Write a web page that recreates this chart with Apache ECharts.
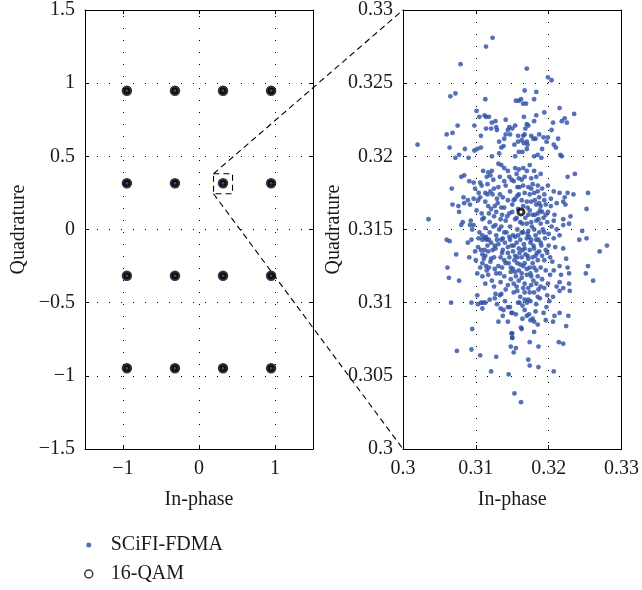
<!DOCTYPE html>
<html><head><meta charset="utf-8">
<script src="https://cdn.jsdelivr.net/npm/echarts@6/dist/echarts.min.js"></script>
<style>html,body{margin:0;padding:0;background:#fff}#c{width:642px;height:590px}</style>
</head><body><div id="c"></div>
<script>
// ---- data ----
const qamLevels = [-0.9487, -0.3162, 0.3162, 0.9487];
const leftXTicks = [-1, 0, 1];
const zoomCenter = [0.3162, 0.3162];
const sciFdmaPoints = [
[0.3123,0.3281],[0.3114,0.3275],[0.3079,0.3263],[0.3065,0.3241],[0.3072,0.3243],[0.3113,0.3239],
[0.3101,0.3231],[0.3105,0.3227],[0.3112,0.3228],[0.3114,0.3227],[0.3118,0.3227],[0.3122,0.3223],[0.3127,0.3224],[0.3121,0.3219],[0.3114,0.3219],[0.3098,0.3221],[0.3128,0.3220],[0.3129,0.3218],[0.3141,0.3225],[0.3146,0.3220],[0.3144,0.3218],[0.3141,0.3215],[0.3147,0.3215],[0.3139,0.3212],[0.3132,0.3210],[0.3135,0.3206],[0.3138,0.3207],[0.3107,0.3214],[0.3075,0.3221],[0.3068,0.3216],[0.3060,0.3215],[0.3020,0.3208],[0.3064,0.3206],[0.3085,0.3205],[0.3098,0.3204],[0.3102,0.3205],[0.3107,0.3206],[0.3072,0.3199],[0.3077,0.3201],[0.3090,0.3199],[0.3122,0.3200],[0.3132,0.3202],
[0.3170,0.3260],[0.3199,0.3254],[0.3204,0.3252],[0.3167,0.3245],[0.3183,0.3244],[0.3155,0.3238],[0.3159,0.3238],[0.3162,0.3239],[0.3165,0.3236],[0.3169,0.3236],[0.3180,0.3239],[0.3194,0.3230],[0.3215,0.3233],[0.3235,0.3229],[0.3166,0.3227],[0.3183,0.3228],[0.3222,0.3226],[0.3218,0.3224],[0.3225,0.3223],[0.3206,0.3223],[0.3180,0.3224],[0.3170,0.3222],[0.3172,0.3221],[0.3168,0.3219],[0.3167,0.3215],[0.3165,0.3214],[0.3154,0.3221],[0.3150,0.3219],[0.3187,0.3215],[0.3176,0.3214],[0.3179,0.3212],[0.3182,0.3212],[0.3193,0.3213],[0.3199,0.3213],[0.3204,0.3218],[0.3213,0.3212],[0.3158,0.3214],[0.3163,0.3211],[0.3158,0.3210],[0.3153,0.3208],[0.3166,0.3209],[0.3170,0.3210],[0.3171,0.3208],[0.3197,0.3210],[0.3207,0.3208],[0.3159,0.3203],[0.3164,0.3203],[0.3170,0.3205],[0.3191,0.3205],[0.3210,0.3206],[0.3185,0.3201],[0.3180,0.3200],[0.3154,0.3200],[0.3190,0.3199],[0.3216,0.3201],[0.3218,0.3200],
[0.3035,0.3157],[0.3060,0.3143],[0.3064,0.3142],[0.3073,0.3133],[0.3061,0.3124],[0.3063,0.3117],[0.3077,0.3115],[0.3067,0.3178],[0.3068,0.3167],[0.3076,0.3166],[0.3077,0.3162],[0.3080,0.3153],[0.3082,0.3155],[0.3080,0.3186],[0.3084,0.3187],[0.3083,0.3172],[0.3084,0.3168],[0.3089,0.3170],[0.3091,0.3183],[0.3092,0.3167],[0.3097,0.3171],[0.3089,0.3141],[0.3094,0.3143],[0.3091,0.3131],[0.3099,0.3135],[0.3095,0.3150],[0.3092,0.3153],[0.3093,0.3156],[0.3097,0.3153],[0.3103,0.3170],[0.3101,0.3163],[0.3108,0.3161],[0.3106,0.3172],[0.3097,0.3182],[0.3099,0.3178],[0.3106,0.3182],[0.3108,0.3180],[0.3104,0.3175],[0.3110,0.3190],[0.3115,0.3186],[0.3117,0.3189],[0.3120,0.3187],[0.3122,0.3190],[0.3113,0.3175],[0.3116,0.3174],[0.3120,0.3176],[0.3123,0.3174],[0.3113,0.3169],[0.3117,0.3166],[0.3121,0.3164],[0.3126,0.3166],[0.3128,0.3162],[0.3125,0.3159],[0.3104,0.3144],[0.3109,0.3143],[0.3112,0.3144],[0.3115,0.3143],[0.3118,0.3143],[0.3109,0.3146],[0.3114,0.3145],[0.3107,0.3136],[0.3109,0.3133],[0.3111,0.3130],[0.3117,0.3135],[0.3123,0.3136],[0.3126,0.3139],[0.3131,0.3140],[0.3135,0.3143],[0.3100,0.3129],[0.3109,0.3127],[0.3114,0.3125],[0.3120,0.3128],[0.3115,0.3122],[0.3126,0.3123],[0.3131,0.3125],[0.3133,0.3120],[0.3117,0.3119],[0.3122,0.3115],[0.3109,0.3118],[0.3102,0.3120],[0.3131,0.3195],[0.3135,0.3194],[0.3139,0.3192],[0.3144,0.3190],[0.3146,0.3186],[0.3139,0.3183],[0.3141,0.3180],[0.3131,0.3179],[0.3133,0.3174],[0.3137,0.3172],[0.3144,0.3170],[0.3139,0.3165],[0.3146,0.3161],[0.3141,0.3156],[0.3135,0.3152],[0.3139,0.3148],[0.3146,0.3145],[0.3144,0.3138],[0.3137,0.3136],[0.3146,0.3131],[0.3139,0.3129],[0.3148,0.3124],
[0.3226,0.3186],[0.3236,0.3188],[0.3254,0.3175],[0.3252,0.3164],[0.3234,0.3174],[0.3226,0.3175],[0.3215,0.3175],[0.3222,0.3172],[0.3223,0.3167],[0.3220,0.3169],[0.3230,0.3159],[0.3228,0.3154],[0.3220,0.3157],[0.3220,0.3153],[0.3207,0.3156],[0.3204,0.3152],[0.3211,0.3150],[0.3198,0.3155],[0.3246,0.3149],[0.3242,0.3143],[0.3252,0.3144],[0.3270,0.3135],[0.3280,0.3139],
[0.3220,0.3137],[0.3215,0.3146],[0.3207,0.3144],[0.3209,0.3138],[0.3200,0.3139],[0.3196,0.3136],[0.3194,0.3129],[0.3202,0.3131],[0.3224,0.3130],[0.3226,0.3124],[0.3215,0.3125],[0.3207,0.3122],[0.3202,0.3119],[0.3217,0.3119],[0.3228,0.3120],[0.3254,0.3125],[0.3251,0.3120],[0.3261,0.3115],[0.3228,0.3113],[0.3215,0.3114],[0.3211,0.3111],[0.3220,0.3110],
[0.3154,0.3192],[0.3159,0.3191],[0.3165,0.3192],[0.3170,0.3190],[0.3174,0.3194],[0.3180,0.3190],[0.3189,0.3188],[0.3183,0.3186],[0.3176,0.3185],[0.3167,0.3186],[0.3159,0.3185],[0.3152,0.3183],[0.3157,0.3179],[0.3165,0.3180],[0.3172,0.3179],[0.3178,0.3181],[0.3185,0.3180],[0.3191,0.3178],[0.3194,0.3174],[0.3187,0.3172],[0.3180,0.3175],[0.3174,0.3174],[0.3167,0.3175],[0.3159,0.3174],[0.3154,0.3171],[0.3163,0.3170],[0.3170,0.3169],[0.3176,0.3169],[0.3183,0.3167],[0.3189,0.3166],[0.3196,0.3167],[0.3191,0.3162],[0.3185,0.3161],[0.3178,0.3160],[0.3172,0.3160],[0.3154,0.3157],[0.3161,0.3155],[0.3170,0.3154],[0.3176,0.3155],[0.3183,0.3156],[0.3189,0.3154],[0.3196,0.3160],[0.3157,0.3150],[0.3163,0.3148],[0.3172,0.3149],[0.3180,0.3150],[0.3187,0.3148],[0.3194,0.3148],[0.3154,0.3145],[0.3161,0.3143],[0.3170,0.3144],[0.3176,0.3143],[0.3183,0.3143],[0.3189,0.3141],[0.3152,0.3139],[0.3159,0.3137],[0.3167,0.3137],[0.3174,0.3136],[0.3180,0.3137],[0.3187,0.3135],[0.3154,0.3132],[0.3163,0.3131],[0.3172,0.3130],[0.3178,0.3131],[0.3185,0.3129],[0.3157,0.3127],[0.3165,0.3125],[0.3174,0.3124],[0.3180,0.3124],[0.3189,0.3124],[0.3154,0.3121],[0.3163,0.3120],[0.3170,0.3119],[0.3176,0.3118],[0.3185,0.3118],[0.3191,0.3116],[0.3159,0.3115],[0.3167,0.3113],[0.3176,0.3112],[0.3183,0.3113],[0.3189,0.3111],[0.3172,0.3110],[0.3194,0.3110],
[0.3142,0.3148],[0.3147,0.3152],[0.3151,0.3146],[0.3156,0.3141],[0.3149,0.3139],[0.3144,0.3134],[0.3153,0.3129],[0.3160,0.3134],[0.3166,0.3140],[0.3171,0.3147],[0.3175,0.3141],[0.3168,0.3133],[0.3161,0.3126],[0.3155,0.3118],[0.3148,0.3121],[0.3141,0.3127],[0.3137,0.3144],[0.3132,0.3150],[0.3128,0.3146],[0.3124,0.3152],[0.3119,0.3148],[0.3116,0.3139],[0.3112,0.3136],[0.3121,0.3130],[0.3127,0.3137],[0.3134,0.3131],[0.3139,0.3118],[0.3144,0.3112],[0.3152,0.3113],[0.3163,0.3117],[0.3170,0.3123],[0.3178,0.3127],[0.3184,0.3134],[0.3190,0.3139],[0.3182,0.3146],[0.3177,0.3152],[0.3186,0.3157],[0.3192,0.3150],[0.3158,0.3164],[0.3152,0.3170],[0.3147,0.3176],[0.3160,0.3179],[0.3171,0.3165],[0.3181,0.3170],[0.3136,0.3160],[0.3130,0.3168],[0.3125,0.3178],[0.3118,0.3161],[0.3109,0.3157],[0.3113,0.3151],
[0.3111,0.3158],[0.3119,0.3155],[0.3127,0.3153],[0.3134,0.3157],[0.3143,0.3159],[0.3150,0.3162],[0.3156,0.3158],[0.3164,0.3154],[0.3168,0.3158],[0.3174,0.3163],[0.3181,0.3160],[0.3188,0.3163],[0.3193,0.3158],[0.3199,0.3162],[0.3203,0.3166],[0.3208,0.3160],
[0.3105,0.3148],[0.3121,0.3141],[0.3129,0.3143],[0.3140,0.3141],[0.3147,0.3143],[0.3158,0.3146],[0.3165,0.3148],[0.3173,0.3145],[0.3179,0.3139],[0.3186,0.3143],[0.3195,0.3144],[0.3200,0.3147],
[0.3103,0.3138],[0.3113,0.3132],[0.3125,0.3131],[0.3136,0.3134],[0.3151,0.3135],[0.3157,0.3131],[0.3164,0.3136],[0.3171,0.3132],[0.3182,0.3132],[0.3191,0.3132],[0.3198,0.3134],
[0.3106,0.3124],[0.3118,0.3124],[0.3128,0.3120],[0.3136,0.3124],[0.3145,0.3127],[0.3151,0.3123],[0.3159,0.3122],[0.3167,0.3127],[0.3175,0.3120],[0.3183,0.3122],[0.3196,0.3122],[0.3205,0.3128],
[0.3113,0.3113],[0.3125,0.3111],[0.3134,0.3114],[0.3141,0.3109],[0.3148,0.3116],[0.3156,0.3111],[0.3165,0.3110],[0.3179,0.3115],[0.3186,0.3109],[0.3199,0.3113],
[0.3116,0.3181],[0.3124,0.3184],[0.3133,0.3186],[0.3149,0.3184],[0.3156,0.3188],[0.3163,0.3184],[0.3176,0.3178],[0.3185,0.3176],[0.3199,0.3180],[0.3207,0.3176],[0.3211,0.3168],[0.3203,0.3171],
[0.3129,0.3171],[0.3135,0.3165],[0.3150,0.3167],[0.3157,0.3173],[0.3165,0.3166],[0.3187,0.3168],[0.3194,0.3170],
[0.3119,0.3102],[0.3140,0.3101],[0.3161,0.3104],[0.3183,0.3099],[0.3201,0.3101],
[0.3066,0.3100],[0.3094,0.3100],[0.3102,0.3105],[0.3103,0.3099],[0.3107,0.3100],[0.3109,0.3096],[0.3110,0.3100],[0.3113,0.3100],[0.3126,0.3103],[0.3127,0.3106],[0.3133,0.3105],[0.3135,0.3106],[0.3129,0.3099],[0.3134,0.3096],[0.3138,0.3095],[0.3144,0.3097],[0.3147,0.3097],[0.3137,0.3091],[0.3149,0.3093],[0.3131,0.3087],[0.3144,0.3087],[0.3095,0.3082],[0.3074,0.3067],[0.3094,0.3068],[0.3106,0.3064],[0.3128,0.3063],[0.3121,0.3053],[0.3145,0.3051],[0.3149,0.3079],[0.3150,0.3076],[0.3148,0.3070],
[0.3152,0.3107],[0.3157,0.3108],[0.3167,0.3107],[0.3174,0.3107],[0.3180,0.3107],[0.3185,0.3104],[0.3188,0.3103],[0.3198,0.3105],[0.3206,0.3104],[0.3215,0.3108],[0.3229,0.3108],
[0.3158,0.3100],[0.3160,0.3100],[0.3164,0.3098],[0.3167,0.3102],[0.3172,0.3102],[0.3175,0.3101],[0.3170,0.3100],
[0.3197,0.3097],[0.3193,0.3093],[0.3182,0.3094],[0.3167,0.3095],[0.3155,0.3092],[0.3150,0.3093],
[0.3208,0.3091],[0.3215,0.3093],[0.3227,0.3091],[0.3206,0.3087],[0.3196,0.3088],[0.3185,0.3085],[0.3175,0.3088],[0.3178,0.3089],[0.3180,0.3087],[0.3170,0.3091],[0.3173,0.3092],[0.3164,0.3089],[0.3162,0.3083],[0.3163,0.3082],[0.3180,0.3080],[0.3224,0.3084],
[0.3150,0.3079],[0.3150,0.3076],[0.3155,0.3069],[0.3152,0.3066],[0.3174,0.3073],[0.3186,0.3070],[0.3214,0.3073],[0.3220,0.3072],[0.3172,0.3061],[0.3174,0.3057],[0.3186,0.3056],[0.3207,0.3053],[0.3153,0.3038],[0.3162,0.3032]
];

// ---- build ----
const qamPoints = [];
qamLevels.forEach(i => qamLevels.forEach(q => qamPoints.push([i, q])));
const qamInZoom = qamPoints.filter(p => p[0] > 0.3 && p[0] < 0.33 && p[1] > 0.3 && p[1] < 0.33);

const FONT = 'Liberation Serif';
const FS = 20;
const BLUE = '#2C4DA6';
const minus = v => (v < 0 ? '\u2212' + String(+Math.abs(v).toFixed(3)) : String(+v.toFixed(3)));
const dotted = { color: '#000', width: 1, type: [1, 11] };
const axisLineStyle = { lineStyle: { color: '#000', width: 1 } };
const labelStyle = { color: '#1a1a1a', fontFamily: FONT, fontSize: FS };
const nameStyle = { color: '#1a1a1a', fontFamily: FONT, fontSize: FS };

function mkAxis(o) {
  return Object.assign({
    type: 'value',
    axisLine: Object.assign({ show: true, onZero: false }, axisLineStyle),
    axisTick: { show: true, inside: true, length: 4, lineStyle: { color: '#000' } },
    splitLine: { show: false },
    axisLabel: Object.assign({ formatter: minus }, labelStyle),
  }, o);
}

const chart = echarts.init(document.getElementById('c'), null, { renderer: 'canvas' });
const option = {
  animation: false,
  backgroundColor: '#fff',
  grid: [
    { left: 85, top: 9, width: 228, height: 440 },
    { left: 403, top: 9, width: 230, height: 440 }
  ],
  xAxis: [
    mkAxis({ gridIndex: 0, position: 'bottom', min: -1.5, max: 1.5, interval: 0.5,
      axisTick: { show: true, inside: true, length: 4, customValues: leftXTicks, lineStyle: { color: '#000' } },
      axisLabel: Object.assign({ formatter: minus, margin: 10, customValues: leftXTicks }, labelStyle),
      name: 'In-phase', nameLocation: 'middle', nameGap: 41, nameTextStyle: nameStyle }),
    mkAxis({ gridIndex: 0, position: 'top', min: -1.5, max: 1.5, interval: 0.5,
      axisTick: { show: true, inside: true, length: 4, customValues: leftXTicks, lineStyle: { color: '#000' } },
      axisLabel: { show: false } }),
    mkAxis({ gridIndex: 1, position: 'bottom', min: 0.3, max: 0.33, interval: 0.01,
      splitLine: { show: true, lineStyle: dotted },
      axisLabel: Object.assign({ formatter: minus, margin: 10 }, labelStyle),
      name: 'In-phase', nameLocation: 'middle', nameGap: 41, nameTextStyle: nameStyle }),
    mkAxis({ gridIndex: 1, position: 'top', min: 0.3, max: 0.33, interval: 0.01, axisLabel: { show: false } })
  ],
  yAxis: [
    mkAxis({ gridIndex: 0, position: 'left', min: -1.5, max: 1.5, interval: 0.5,
      splitLine: { show: true, lineStyle: dotted },
      axisLabel: Object.assign({ formatter: minus, margin: 10 }, labelStyle),
      name: 'Quadrature', nameLocation: 'middle', nameGap: 56, nameRotate: 90, nameTextStyle: nameStyle }),
    mkAxis({ gridIndex: 0, position: 'right', min: -1.5, max: 1.5, interval: 0.5, axisLabel: { show: false } }),
    mkAxis({ gridIndex: 1, position: 'left', min: 0.3, max: 0.33, interval: 0.005,
      splitLine: { show: true, lineStyle: dotted },
      axisLabel: Object.assign({ formatter: minus, margin: 10 }, labelStyle),
      name: 'Quadrature', nameLocation: 'middle', nameGap: 59, nameRotate: 90, nameTextStyle: nameStyle }),
    mkAxis({ gridIndex: 1, position: 'right', min: 0.3, max: 0.33, interval: 0.005, axisLabel: { show: false } })
  ],
  legend: {
    orient: 'vertical', left: 78, top: 530, itemGap: 9, itemWidth: 22, itemHeight: 10,
    textStyle: { color: '#1a1a1a', fontFamily: FONT, fontSize: FS },
    data: [
      { name: 'SCiFI-FDMA', icon: 'path://M0,0M22,10M2.5,5a2.5,2.5 0 1,0 5,0a2.5,2.5 0 1,0 -5,0Z', itemStyle: { color: BLUE, borderWidth: 0 } },
      { name: '16-QAM', icon: 'path://M0,0M22,10M1,5a4,4 0 1,0 8,0a4,4 0 1,0 -8,0Z', itemStyle: { color: '#fff', borderColor: '#000', borderWidth: 1.5 } }
    ]
  },
  series: [
    { name: '16-QAM', type: 'scatter', xAxisIndex: 0, yAxisIndex: 0, data: qamPoints, symbolSize: 6.5,
      itemStyle: { color: '#000', borderColor: '#000', borderWidth: 4 }, z: 3,
      markLine: { silent: true, symbol: 'none', label: { show: false }, lineStyle: dotted,
        data: leftXTicks.map(v => ({ xAxis: v })) } },
    { name: 'SCiFI-FDMA', type: 'scatter', xAxisIndex: 0, yAxisIndex: 0, data: qamPoints, symbolSize: 3,
      itemStyle: { color: BLUE }, z: 4 },
    { name: 'SCiFI-FDMA', type: 'scatter', xAxisIndex: 2, yAxisIndex: 2, data: sciFdmaPoints, symbolSize: 4.8,
      itemStyle: { color: BLUE }, z: 3 },
    { name: '16-QAM', type: 'scatter', xAxisIndex: 2, yAxisIndex: 2, data: qamInZoom, symbolSize: 6,
      itemStyle: { color: 'rgba(0,0,0,0)', borderColor: '#000', borderWidth: 3 }, z: 4 }
  ]
};
chart.setOption(option);

// zoom indicator (dashed box + connector lines), positioned via the axes
const c = chart.convertToPixel({ xAxisIndex: 0, yAxisIndex: 0 }, zoomCenter);
const tl = chart.convertToPixel({ xAxisIndex: 2, yAxisIndex: 2 }, [0.3, 0.33]);
const bl = chart.convertToPixel({ xAxisIndex: 2, yAxisIndex: 2 }, [0.3, 0.3]);
const h = 10;
const dash = { stroke: '#000', lineWidth: 1.1, lineDash: [6, 4], fill: null };
chart.setOption({
  graphic: [
    { type: 'rect', shape: { x: c[0] - h + 0.5, y: c[1] - h + 0.5, width: 2 * h - 1, height: 2 * h }, style: dash, z: 10 },
    { type: 'line', shape: { x1: c[0] - h + 0.5, y1: c[1] - h + 0.5, x2: tl[0], y2: tl[1] }, style: dash, z: 10 },
    { type: 'line', shape: { x1: c[0] - h + 0.5, y1: c[1] + h + 0.5, x2: bl[0], y2: bl[1] }, style: dash, z: 10 }
  ]
});
</script></body></html>
